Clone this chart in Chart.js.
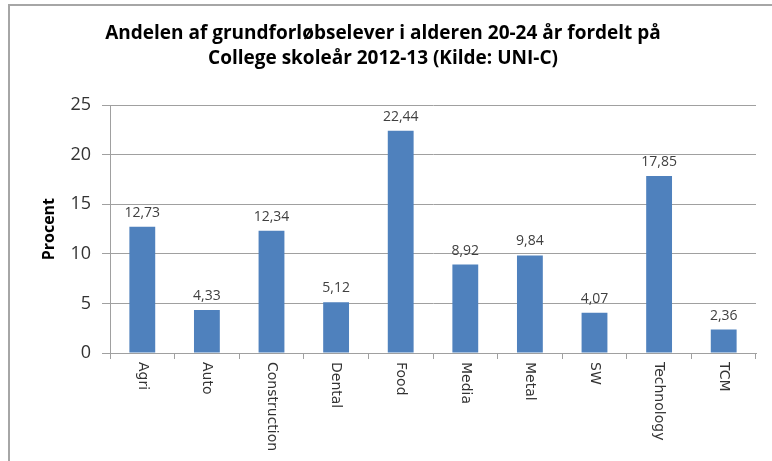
<!DOCTYPE html>
<html lang="da">
<head>
    <meta charset="UTF-8">
    <title>Grundforløbselever 20-24 år</title>
    <script src="https://cdn.jsdelivr.net/npm/chart.js"></script>
    <style>
        html, body { margin: 0; padding: 0; background: #fff; }
        .wrap { position: relative; width: 772px; height: 461px; }
        .frame { position: absolute; left: 8px; top: 4px; right: 0; bottom: 0; border-top: 2px solid #a6a6a6; border-left: 2px solid #a6a6a6; pointer-events: none; }
        canvas { position: absolute; left: 0; top: 0; }
    </style>
</head>
<body>
    <div class="wrap">
        <canvas id="chart" width="772" height="461"></canvas>
        <div class="frame"></div>
    </div>

    <script>
        const categories = ['Agri', 'Auto', 'Construction', 'Dental', 'Food', 'Media', 'Metal', 'SW', 'Technology', 'TCM'];
        const values = [12.73, 4.33, 12.34, 5.12, 22.44, 8.92, 9.84, 4.07, 17.85, 2.36];
        const yTicks = [0, 5, 10, 15, 20, 25];

        const titleLines = ['Andelen af grundforløbselever i alderen 20-24 år fordelt på', 'College skoleår 2012-13 (Kilde: UNI-C)'];
        const font = 'Open Sans';

        // value labels above bars, danish decimal comma
        const valueLabels = {
            id: 'valueLabels',
            afterDatasetsDraw(chart) {
                const ctx = chart.ctx;
                const meta = chart.getDatasetMeta(0);
                ctx.save();
                ctx.font = '14px "' + font + '"';
                ctx.fillStyle = '#404040';
                ctx.textAlign = 'center';
                ctx.textBaseline = 'bottom';
                meta.data.forEach((bar, i) => {
                    const txt = values[i].toFixed(2).replace('.', ',');
                    ctx.fillText(txt, bar.x, bar.y - 7);
                });
                ctx.restore();
            }
        };

        // x labels rotated clockwise (read top to bottom)
        const rotatedLabels = {
            id: 'rotatedLabels',
            afterDraw(chart) {
                const ctx = chart.ctx;
                const x = chart.scales.x;
                ctx.save();
                ctx.font = '14px "DejaVu Sans"';
                ctx.fillStyle = '#333';
                ctx.textAlign = 'left';
                ctx.textBaseline = 'middle';
                chart.data.labels.forEach((lab, i) => {
                    const px = x.getPixelForTick(i);
                    ctx.save();
                    ctx.translate(px, x.top + 9);
                    ctx.rotate(Math.PI / 2);
                    ctx.fillText(lab, 0, 0);
                    ctx.restore();
                });
                ctx.restore();
            }
        };

        new Chart(document.getElementById('chart'), {
            type: 'bar',
            data: {
                labels: categories,
                datasets: [{
                    data: values,
                    backgroundColor: '#4F81BD',
                    borderWidth: 0,
                    barPercentage: 0.4,
                    categoryPercentage: 1
                }]
            },
            options: {
                responsive: false,
                animation: false,
                layout: { padding: { left: 10, right: 16, top: 0, bottom: 0 } },
                plugins: {
                    legend: { display: false },
                    tooltip: { enabled: false },
                    title: {
                        display: true,
                        text: titleLines,
                        color: '#000',
                        font: { family: font, size: 19, weight: 'bold', lineHeight: 1.27 },
                        padding: { top: 22, bottom: 35 }
                    }
                },
                scales: {
                    x: {
                        grid: { display: true, drawOnChartArea: false, drawTicks: true, tickLength: 6, color: '#a0a0a0', offset: true },
                        border: { color: '#a0a0a0', width: 1 },
                        ticks: { display: false },
                        afterFit(scale) { scale.height = 108; }
                    },
                    y: {
                        min: 0,
                        max: 25,
                        afterBuildTicks(scale) { scale.ticks = yTicks.map(v => ({ value: v })); },
                        grid: { color: '#a0a0a0', tickLength: 8 },
                        border: { color: '#a0a0a0', width: 1 },
                        ticks: { color: '#333', font: { family: font, size: 18 }, padding: 11 },
                        title: {
                            display: true,
                            text: 'Procent',
                            color: '#000',
                            font: { family: font, size: 16, weight: 'bold' },
                            padding: { top: 30, bottom: 0 }
                        },
                        afterFit(scale) { scale.width = 100; }
                    }
                }
            },
            plugins: [valueLabels, rotatedLabels]
        });
    </script>
</body>
</html>
